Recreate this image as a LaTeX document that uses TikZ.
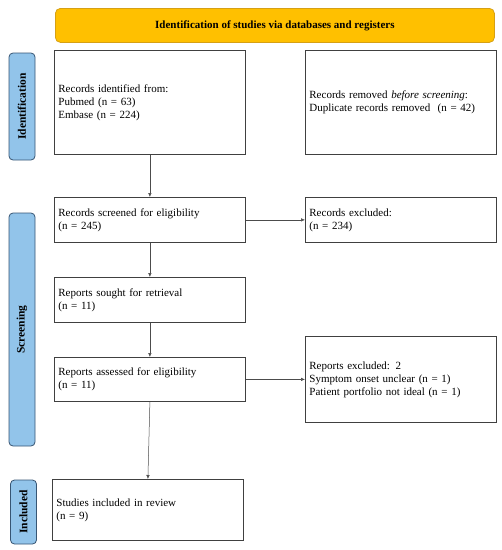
\documentclass[tikz,border=0pt]{standalone}
\usepackage{fontspec}
\setmainfont{Liberation Serif}
\usetikzlibrary{positioning,calc,arrows.meta}
\definecolor{headorange}{RGB}{255,192,0}
\definecolor{headline}{RGB}{214,160,20}
\definecolor{tabblue}{RGB}{146,196,234}
\definecolor{tabline}{RGB}{55,85,115}

\begin{document}
\begin{tikzpicture}[x=1pt,y=-1pt,%
      every node/.style={font=\fontsize{11}{13}\selectfont},%
      box/.style={draw=black!75, line width=0.8pt, anchor=north west, minimum width=191pt, text width=183pt, inner sep=4pt, align=left},%
      tab/.style={draw=tabline, fill=tabblue, rounded corners=4pt, line width=0.8pt, rotate=90, minimum height=26pt, inner sep=0pt, font=\fontsize{11.5}{13}\selectfont\bfseries},%
      arr/.style={draw=black!70, line width=0.5pt, -{Latex[length=4pt,width=3.5pt]}}]
      \useasboundingbox (0,0) rectangle (502,550);

      % Header
      \node[draw=headline, fill=headorange, rounded corners=5pt, line width=0.8pt, anchor=north west,
            minimum width=439pt, minimum height=34pt, font=\fontsize{11}{13}\selectfont\bfseries]
            (head) at (55,8) {Identification of studies via databases and registers};

      % Side tabs
      \node[tab, minimum width=107pt] (tabid) at (22,106.5) {Identification};
      \node[tab, minimum width=233pt] (tabscr) at (22,329.5) {Screening};
      \node[tab, minimum width=64pt] (tabinc) at (23.5,512) {Included};

      % Identification
      \node[box, minimum height=104pt] (ident) at (54,50) {Records identified from:\\Pubmed (n = 63)\\Embase (n = 224)};
      \node[box, minimum height=104pt] (removed) at (305,50) {Records removed \textit{before screening}:\\Duplicate records removed\ \ (n = 42)};

      % Screening
      \node[box, minimum height=45pt] (screened) at (54,197) {Records screened for eligibility\\(n = 245)};
      \node[box, minimum height=45pt] (excluded) at (305,197) {Records excluded:\\(n = 234)};
      \node[box, minimum height=45pt] (sought) at (54,277) {Reports sought for retrieval\\(n = 11)};
      \node[box, minimum height=44pt] (assessed) at (54,357) {Reports assessed for eligibility\\(n = 11)};
      \node[box, minimum height=86pt] (repexcl) at (305,336) {Reports excluded: 2\\Symptom onset unclear (n = 1)\\Patient portfolio not ideal (n = 1)};

      % Included
      \node[box, minimum height=61pt] (included) at (52,479) {Studies included in review\\(n = 9)};

      % Arrows
      \draw[arr] (ident.south) -- (screened.north);
      \draw[arr] (screened.east) -- (excluded.west);
      \draw[arr] (screened.south) -- (sought.north);
      \draw[arr] (sought.south) -- (assessed.north);
      \draw[arr] (assessed.east) -- (repexcl.west);
      \draw[arr] (assessed.south) -- (included.north);
  \end{tikzpicture}
\end{document}
